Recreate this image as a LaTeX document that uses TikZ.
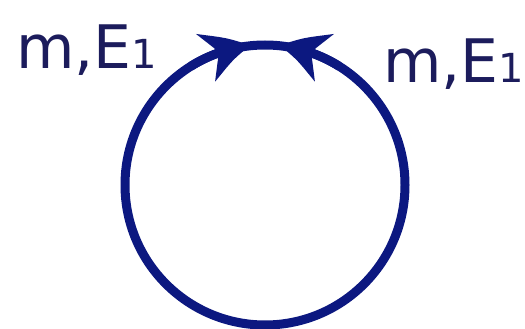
\documentclass[tikz,border=0pt]{standalone}
\usepackage{fontspec}
\setmainfont{DejaVu Sans}
\usetikzlibrary{arrows.meta,bending}
\definecolor{loopblue}{RGB}{12,24,128}
\definecolor{labelblue}{RGB}{28,28,92}
\tikzset{
  loopline/.style={draw=loopblue, line width=9pt},
  looparrow/.style={draw=loopblue, line width=9pt, -{Stealth[length=46pt,width=50pt,inset=14pt,bend]}},
  lbl/.style={text=labelblue, inner sep=0pt, anchor=base west, font=\fontsize{60}{60}\selectfont}
}
\newcommand{\subone}{{\fontsize{40}{40}\selectfont 1}}
\begin{document}
\begin{tikzpicture}[x=1pt,y=-1pt]
\useasboundingbox (0,0) rectangle (525,329);
\coordinate (c) at (265,185);
\draw[loopline] (c) circle (140);
\draw[looparrow] (c) ++(-122:140) arc[start angle=-122, end angle=-96, radius=140];
\draw[looparrow] (c) ++(-58:140) arc[start angle=-58, end angle=-84, radius=140];
\node[lbl] (left) at (16,69) {m,E\subone};
\node[lbl] (right) at (383,83) {m,E\subone};
\end{tikzpicture}
\end{document}
